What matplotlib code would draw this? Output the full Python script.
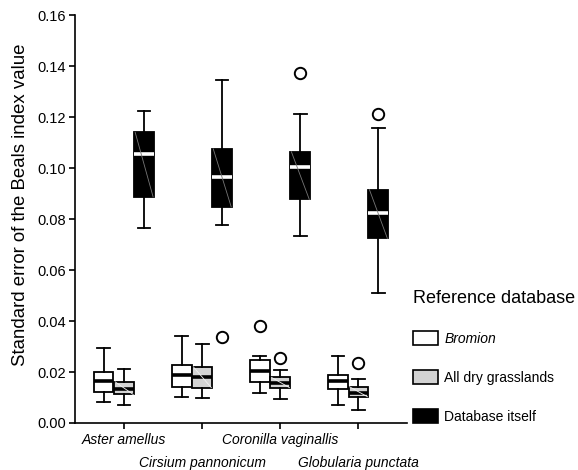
import matplotlib
matplotlib.use('Agg')
from matplotlib import pyplot as plt
from matplotlib.patches import Patch
import numpy as np

plt.rcParams['font.family'] = ['Liberation Sans', 'DejaVu Sans']

species = ['Aster amellus', 'Cirsium pannonicum', 'Coronilla vaginallis', 'Globularia punctata']
series = ['Bromion', 'All dry grasslands', 'Database itself']

# per series: lower whisker, q1, median, q3, upper whisker (one value per species)
bromion_lo = [0.0081, 0.0103, 0.0118, 0.0072]
bromion_q1 = [0.0123, 0.0142, 0.0162, 0.0133]
bromion_med = [0.0166, 0.0187, 0.0203, 0.0163]
bromion_q3 = [0.0199, 0.0229, 0.0246, 0.0187]
bromion_hi = [0.0295, 0.0341, 0.0264, 0.0264]
bromion_out = [[], [], [0.0382], []]

dry_lo = [0.0072, 0.0098, 0.0093, 0.0051]
dry_q1 = [0.0112, 0.0139, 0.0139, 0.0103]
dry_med = [0.0132, 0.0182, 0.0157, 0.0116]
dry_q3 = [0.0161, 0.0220, 0.0179, 0.0142]
dry_hi = [0.0210, 0.0311, 0.0209, 0.0174]
dry_out = [[], [], [0.0254], [0.0234]]

self_lo = [0.0763, 0.0775, 0.0733, 0.0510]
self_q1 = [0.0887, 0.0848, 0.0877, 0.0724]
self_med = [0.1054, 0.0966, 0.1003, 0.0822]
self_q3 = [0.1140, 0.1075, 0.1064, 0.0915]
self_hi = [0.1224, 0.1345, 0.1212, 0.1157]
self_out = [[], [0.0336], [0.1371], [0.1212]]

data = [
    (bromion_lo, bromion_q1, bromion_med, bromion_q3, bromion_hi, bromion_out),
    (dry_lo, dry_q1, dry_med, dry_q3, dry_hi, dry_out),
    (self_lo, self_q1, self_med, self_q3, self_hi, self_out),
]
face = ['white', '#d3d3d3', 'black']
median_col = ['black', 'black', 'white']
diag_col = [None, '#f2f2f2', '#777777']
offsets = [-0.265, 0.0, 0.255]
width = 0.255

fig = plt.figure(figsize=(5.78, 4.70), dpi=100)
ax = fig.add_axes([0.1298, 0.1, 0.5742, 0.868])

x = np.arange(len(species))
for k, (lo, q1, med, q3, hi, out) in enumerate(data):
    stats = []
    for i in range(len(species)):
        stats.append(dict(whislo=lo[i], q1=q1[i], med=med[i], q3=q3[i], whishi=hi[i], fliers=out[i]))
    pos = x + offsets[k]
    ax.bxp(stats, positions=pos, widths=width, capwidths=0.16, patch_artist=True, manage_ticks=False,
           boxprops=dict(facecolor=face[k], edgecolor='black', linewidth=1.3),
           medianprops=dict(color=median_col[k], linewidth=2.6, solid_capstyle='butt'),
           whiskerprops=dict(color='black', linewidth=1.3),
           capprops=dict(color='black', linewidth=1.3),
           flierprops=dict(marker='o', markerfacecolor='none', markeredgecolor='black',
                           markersize=8.2, markeredgewidth=1.4))
    if diag_col[k]:
        for i in range(len(species)):
            ax.plot([pos[i] - width / 2 * 0.9, pos[i] + width / 2 * 0.9], [q3[i], q1[i]],
                    color=diag_col[k], linewidth=0.6, zorder=3)

ax.set_xlim(-0.63, 3.62)
ax.set_ylim(0, 0.16)
ax.set_yticks(np.arange(0, 0.161, 0.02))
ax.set_yticklabels([f'{v:.2f}' for v in np.arange(0, 0.161, 0.02)], fontsize=10.5)
ax.set_xticks(x)
ax.set_xticklabels(species, fontsize=10, style='italic')
ax.tick_params(axis='both', direction='out', length=4, width=1.2)
ax.tick_params(axis='y', pad=2.5)
# stagger the species names on two rows
for i, t in enumerate(ax.xaxis.get_major_ticks()):
    if i % 2 == 1:
        t.set_pad(20)
ax.spines['top'].set_visible(False)
ax.spines['right'].set_visible(False)
ax.spines['left'].set_linewidth(1.2)
ax.spines['bottom'].set_linewidth(1.2)
ax.set_ylabel('Standard error of the Beals index value', fontsize=13.4)
ax.yaxis.set_label_coords(-0.139, 0.534)

handles = [Patch(facecolor=face[k], edgecolor='black', linewidth=1.2) for k in range(3)]
leg = fig.legend(handles, series, loc='upper left', bbox_to_anchor=(413 / 578, 1 - 290 / 470),
                 frameon=False, fontsize=10, title='Reference database', title_fontsize=13,
                 alignment='left', borderpad=0, borderaxespad=0, handlelength=1.8,
                 handleheight=1.15, handletextpad=0.45, labelspacing=1.75)
leg.get_texts()[0].set_fontstyle('italic')

fig.savefig('out.png', dpi=100)
